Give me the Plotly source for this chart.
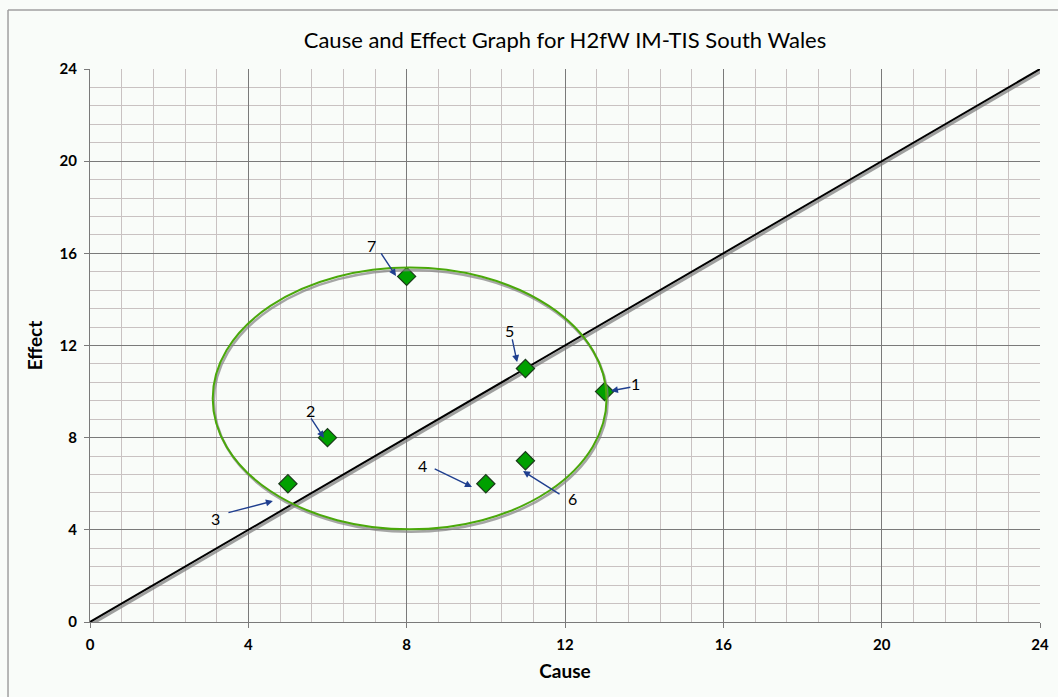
import plotly.graph_objects as go

# ---- data ----
point_ids = ["1", "2", "3", "4", "5", "6", "7"]
cause = [13, 6, 5, 10, 11, 11, 8]
effect = [10, 8, 6, 6, 11, 7, 15]

diag_x = [0, 24]
diag_y = [0, 24]

# ellipse bounds (data units)
ell_x0, ell_x1 = 3.1, 13.05
ell_y0, ell_y1 = 4.02, 15.38

# label annotations: text position, arrow tail, arrow tip
lab_text = ["1", "2", "3", "4", "5", "6", "7"]
lab_x = [13.78, 5.56, 3.16, 8.39, 10.61, 12.18, 7.12]
lab_y = [10.33, 9.2, 4.51, 6.81, 12.67, 5.38, 16.36]
tail_x = [13.69, 5.56, 3.46, 8.67, 10.66, 11.9, 7.33]
tail_y = [10.2, 8.9, 4.73, 6.68, 12.33, 5.51, 16.06]
tip_x = [13.16, 5.91, 4.62, 9.65, 10.79, 10.94, 7.73]
tip_y = [10.03, 7.99, 5.25, 5.86, 11.28, 6.55, 15.02]

font_family = "Lato, 'Open Sans', sans-serif"
bg = "#f9fcf9"

fig = go.Figure()

# diagonal shadow + line
fig.add_trace(go.Scatter(x=[v + 0.05 for v in diag_x], y=[v - 0.08 for v in diag_y],
                         mode="lines", line=dict(color="rgba(120,120,120,0.7)", width=3),
                         hoverinfo="skip", showlegend=False))
fig.add_trace(go.Scatter(x=diag_x, y=diag_y, mode="lines",
                         line=dict(color="black", width=2), showlegend=False))

# points
fig.add_trace(go.Scatter(x=cause, y=effect, mode="markers", text=point_ids,
                         marker=dict(symbol="diamond", size=14, color="#00a000",
                                     line=dict(color="#1a3a1a", width=1.2)),
                         showlegend=False))

shapes = []
# ellipse shadow and ellipse
shapes.append(dict(type="circle", xref="x", yref="y",
                   x0=ell_x0 + 0.03, x1=ell_x1 + 0.03, y0=ell_y0 - 0.1, y1=ell_y1 - 0.1,
                   line=dict(color="rgba(130,130,130,0.7)", width=2.5), layer="above"))
shapes.append(dict(type="circle", xref="x", yref="y",
                   x0=ell_x0, x1=ell_x1, y0=ell_y0, y1=ell_y1,
                   line=dict(color="#4aa80a", width=2), layer="above"))
# chart outer border (top and left)
shapes.append(dict(type="line", xref="paper", yref="paper",
                   x0=-0.0863, x1=1.02, y0=1.1067, y1=1.1067,
                   line=dict(color="#a0a0a0", width=1.5)))
shapes.append(dict(type="line", xref="paper", yref="paper",
                   x0=-0.0863, x1=-0.0863, y0=-0.14, y1=1.1067,
                   line=dict(color="#a0a0a0", width=1.5)))

annotations = []
for t, lx, ly, ax, ay, px, py in zip(lab_text, lab_x, lab_y, tail_x, tail_y, tip_x, tip_y):
    annotations.append(dict(x=px, y=py, ax=ax, ay=ay, xref="x", yref="y",
                            axref="x", ayref="y", text="", showarrow=True,
                            arrowhead=2, arrowsize=1.0, arrowwidth=1.4,
                            arrowcolor="#1f3f8f", standoff=0, startstandoff=0))
    annotations.append(dict(x=lx, y=ly, xref="x", yref="y", text=t, showarrow=False,
                            font=dict(family=font_family, size=16, color="black")))

axis_common = dict(
    range=[0, 24], dtick=4, tick0=0, showgrid=True, gridcolor="#7a7a7a", gridwidth=1,
    zeroline=False, showline=True, linecolor="#7a7a7a", linewidth=1,
    ticks="outside", ticklen=5, tickcolor="#7a7a7a", automargin=False,
    tickfont=dict(family=font_family, size=15, color="black", weight="bold"),
    minor=dict(dtick=0.8, tick0=0, showgrid=True, gridcolor="#c9c2c2", gridwidth=1, ticks=""),
    fixedrange=True,
)

fig.update_layout(
    width=1058, height=697,
    margin=dict(l=90, r=18, t=69, b=75),
    paper_bgcolor=bg, plot_bgcolor=bg,
    title=dict(text="Cause and Effect Graph for H2fW IM-TIS South Wales",
               x=(90 + 475) / 1058, xanchor="center", y=1 - 40 / 697, yanchor="middle",
               font=dict(family=font_family, size=22, color="black")),
    xaxis=dict(axis_common, ticklabelstandoff=4,
               title=dict(text="Cause", standoff=12,
                          font=dict(family=font_family, size=19, color="black", weight="bold"))),
    yaxis=dict(axis_common, ticklabelstandoff=4,
               title=dict(text="Effect", standoff=11,
                          font=dict(family=font_family, size=19, color="black", weight="bold"))),
    shapes=shapes,
    annotations=annotations,
    showlegend=False,
)

fig.write_html("out.html", config={"displayModeBar": False},
               post_script="document.body.style.margin='0';document.body.style.overflow='hidden';")
